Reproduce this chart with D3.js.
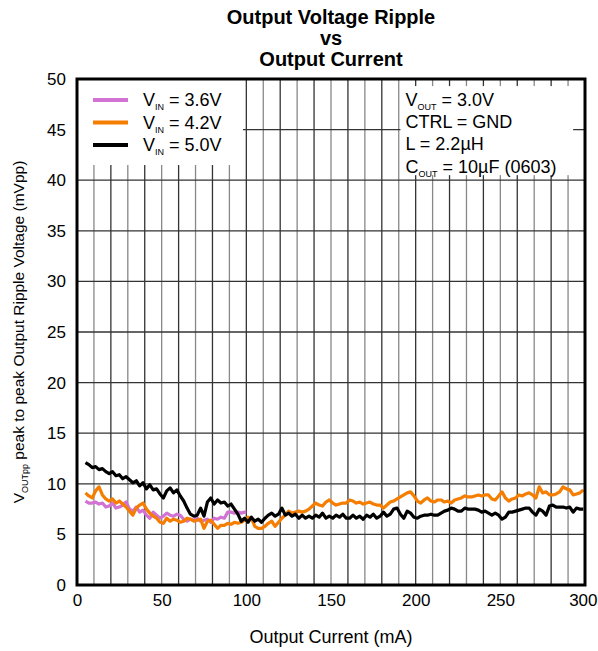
<!DOCTYPE html>
<html>
<head>
<meta charset="utf-8">
<script src="https://cdn.jsdelivr.net/npm/d3@7"></script>
<style>
  body { margin: 0; background: #fff; }
  text { font-family: "Liberation Sans", Arial, sans-serif; fill: #000; }
</style>
</head>
<body>
<div id="chart"></div>
<script>
// Chart dimensions
var svgWidth = 598;
var svgHeight = 651;

var margin = { top: 79, right: 13, bottom: 66, left: 77 };
var width = svgWidth - margin.left - margin.right;
var height = svgHeight - margin.top - margin.bottom;

// Data (mA, mVpp)
var xTicks = [0, 50, 100, 150, 200, 250, 300];
var yTicks = [0, 5, 10, 15, 20, 25, 30, 35, 40, 45, 50];

var current36 = [5, 7, 9, 11, 13, 15, 17, 19, 21, 23, 25, 27, 29, 31, 33, 35, 37, 39, 41, 43, 45, 47, 49,
  51, 53, 55, 57, 59, 61, 63, 65, 67, 69, 71, 73, 75, 77, 79, 81, 83, 85, 87, 89, 91, 93, 95, 97, 99, 100];
var ripple36 = [8.3, 8.1, 8.1, 8.2, 8.0, 8.1, 7.7, 7.8, 8.1, 7.6, 7.7, 7.9, 8.2, 7.5, 7.3, 7.7, 7.2, 7.4, 6.9, 6.6, 7.2, 6.9, 6.6,
  6.8, 7.1, 6.9, 6.8, 7.0, 6.9, 6.5, 6.3, 6.5, 6.4, 6.6, 6.3, 6.4, 6.5, 6.2, 6.6, 6.5, 6.7, 6.6, 7.2, 7.2, 7.1, 7.2, 7.1, 7.2, 7.2];

var current = d3.range(5, 301, 2);

var ripple42 = [9.1, 8.8, 8.6, 9.3, 9.7, 8.9, 8.5, 8.3, 8.5, 8.1, 8.3, 8.0, 7.7, 7.3, 6.9, 7.6, 7.9, 8.1, 7.5, 7.1, 6.8, 6.6, 6.2,
  6.1, 6.6, 6.3, 6.5, 6.4, 6.2, 6.3, 6.6, 6.5, 6.3, 6.4, 6.5, 5.6, 6.3, 6.4, 6.0, 5.6, 5.9, 5.9, 6.1, 6.0, 6.2, 6.1, 6.2, 6.4,
  6.7, 6.6, 5.8, 5.6, 5.6, 5.8, 6.1, 6.3, 5.8, 6.2, 6.6, 6.9, 7.3, 7.1, 7.2, 7.3, 7.2, 7.3, 7.5, 7.8, 8.1, 7.9, 7.8, 8.2, 8.4,
  8.1, 7.9, 8.0, 8.1, 8.1, 8.4, 8.3, 8.1, 8.2, 8.0, 8.1, 8.2, 8.0, 7.9, 7.9, 7.6, 7.9, 8.2, 8.3, 8.5, 8.7, 8.9, 9.1, 9.2, 8.8,
  8.3, 8.1, 8.4, 8.6, 8.3, 8.2, 8.4, 8.4, 8.2, 8.3, 8.1, 8.4, 8.5, 8.6, 8.8, 8.7, 8.7, 8.8, 8.9, 8.8, 8.9, 8.9, 8.5, 8.4, 8.8,
  9.2, 8.6, 8.3, 8.5, 8.6, 8.9, 8.8, 9.0, 9.1, 8.9, 8.6, 9.7, 9.1, 9.2, 8.9, 8.9, 9.0, 9.2, 9.7, 9.5, 9.4, 8.9, 9.0, 9.1, 9.4];

var ripple50 = [12.1, 11.9, 11.6, 11.7, 11.4, 11.5, 11.2, 11.0, 11.2, 10.8, 10.9, 10.5, 10.7, 10.4, 10.1, 10.3, 9.8, 10.1, 9.5,
  9.9, 9.4, 9.5, 9.0, 8.6, 9.3, 9.6, 9.1, 9.4, 8.8, 8.3, 7.6, 7.0, 6.8, 6.9, 7.6, 6.8, 8.2, 8.6, 8.0, 8.4, 8.1, 8.2, 7.8, 8.0,
  7.5, 7.0, 6.3, 6.6, 6.2, 6.7, 6.3, 6.5, 6.2, 6.6, 6.9, 7.1, 6.8, 7.0, 7.6, 6.9, 7.1, 6.8, 7.0, 6.6, 6.9, 6.6, 6.8, 6.6, 6.9,
  6.7, 7.1, 6.6, 6.8, 6.6, 6.9, 6.7, 7.0, 6.6, 6.6, 6.9, 6.6, 6.8, 6.5, 6.9, 6.7, 7.0, 6.6, 6.8, 7.2, 6.8, 7.0, 7.5, 7.6, 7.0,
  6.6, 7.3, 7.1, 6.7, 6.6, 6.8, 6.9, 6.9, 7.0, 6.9, 6.9, 7.1, 7.3, 7.4, 7.6, 7.5, 7.3, 7.3, 7.6, 7.5, 7.5, 7.5, 7.4, 7.2, 7.3,
  7.1, 6.9, 7.1, 6.9, 6.5, 6.7, 7.2, 7.2, 7.3, 7.4, 7.5, 7.6, 7.6, 7.2, 6.9, 7.5, 7.3, 6.9, 7.8, 7.9, 7.7, 7.7, 7.7, 7.6, 7.7,
  7.2, 7.6, 7.5, 7.5];

var series = [
  { name: "3.6V", color: "#d272d2", x: current36, y: ripple36 },
  { name: "4.2V", color: "#f57d00", x: current, y: ripple42 },
  { name: "5.0V", color: "#000000", x: current, y: ripple50 }
];

var svg = d3.select("#chart")
  .append("svg")
  .attr("width", svgWidth)
  .attr("height", svgHeight);

var chartGroup = svg.append("g")
  .attr("transform", `translate(${margin.left}, ${margin.top})`);

var xScale = d3.scaleLinear().domain([0, 300]).range([0, width]);
var yScale = d3.scaleLinear().domain([0, 50]).range([height, 0]);

// Grid
chartGroup.append("g")
  .selectAll("line")
  .data(d3.range(10, 300, 10))
  .enter()
  .append("line")
  .attr("x1", d => xScale(d))
  .attr("x2", d => xScale(d))
  .attr("y1", 0)
  .attr("y2", height)
  .attr("stroke", (d, i) => i % 2 ? "#333" : "#888")
  .attr("stroke-width", 1.3);

chartGroup.append("g")
  .selectAll("line")
  .data(d3.range(5, 50, 5))
  .enter()
  .append("line")
  .attr("x1", 0)
  .attr("x2", width)
  .attr("y1", d => yScale(d))
  .attr("y2", d => yScale(d))
  .attr("stroke", "#333")
  .attr("stroke-width", 1.3);

// White boxes behind legend and annotation
chartGroup.append("rect")
  .attr("x", 0).attr("y", 0)
  .attr("width", xScale(98)).attr("height", yScale(41.5))
  .attr("fill", "#fff");

chartGroup.append("rect")
  .attr("x", xScale(191)).attr("y", yScale(49.3))
  .attr("width", xScale(293) - xScale(191)).attr("height", yScale(40.5) - yScale(49.3))
  .attr("fill", "#fff");

// Lines
var line = d3.line()
  .x(d => xScale(d[0]))
  .y(d => yScale(d[1]));

series.forEach(function(s) {
  chartGroup.append("path")
    .datum(s.x.map((v, i) => [v, s.y[i]]))
    .attr("fill", "none")
    .attr("stroke", s.color)
    .attr("stroke-width", 3.2)
    .attr("stroke-linejoin", "round")
    .attr("d", line);
});

// Frame
chartGroup.append("rect")
  .attr("width", width)
  .attr("height", height)
  .attr("fill", "none")
  .attr("stroke", "#000")
  .attr("stroke-width", 3);

// Axes
var bottomAxis = d3.axisBottom(xScale).tickValues(xTicks).tickSize(0).tickPadding(9);
var leftAxis = d3.axisLeft(yScale).tickValues(yTicks).tickSize(0).tickPadding(11);

var xAxis = chartGroup.append("g")
  .attr("transform", `translate(0, ${height})`)
  .call(bottomAxis);
var yAxis = chartGroup.append("g").call(leftAxis);

[xAxis, yAxis].forEach(function(a) {
  a.select(".domain").remove();
  a.selectAll("text")
    .attr("font-size", 17)
    .attr("font-family", "Liberation Sans, Arial, sans-serif")
    .attr("fill", "#000");
});

// keep the last x label inside the page
xAxis.selectAll("text")
  .filter(d => d === 300)
  .attr("text-anchor", "end")
  .attr("x", 12);

// Title
var title = svg.append("text")
  .attr("x", margin.left + width / 2)
  .attr("text-anchor", "middle")
  .attr("font-size", 20)
  .attr("font-weight", "bold");
["Output Voltage Ripple", "vs", "Output Current"].forEach(function(t, i) {
  title.append("tspan")
    .attr("x", margin.left + width / 2)
    .attr("y", 24 + i * 21)
    .text(t);
});

// Axis labels
svg.append("text")
  .attr("x", margin.left + width / 2)
  .attr("y", 643)
  .attr("text-anchor", "middle")
  .attr("font-size", 18)
  .text("Output Current (mA)");

var yLabel = svg.append("text")
  .attr("transform", `translate(24, ${margin.top + height / 2}) rotate(-90)`)
  .attr("text-anchor", "middle")
  .attr("font-size", 15.5);
yLabel.append("tspan").text("V");
yLabel.append("tspan").attr("font-size", 9).attr("dy", 4).text("OUTpp");
yLabel.append("tspan").attr("dy", -4).text(" peak to peak Output Ripple Voltage (mVpp)");

// Legend
var legend = chartGroup.append("g");
series.forEach(function(s, i) {
  var ly = 21 + i * 22.5;
  legend.append("line")
    .attr("x1", 16).attr("x2", 51)
    .attr("y1", ly).attr("y2", ly)
    .attr("stroke", s.color)
    .attr("stroke-width", 4);
  var t = legend.append("text")
    .attr("x", 66).attr("y", ly + 6)
    .attr("font-size", 18);
  t.append("tspan").text("V");
  t.append("tspan").attr("font-size", 9).attr("dy", 4).text("IN");
  t.append("tspan").attr("dy", -4).text(" = " + s.name);
});

// Annotation
var notes = chartGroup.append("g")
  .attr("transform", `translate(${xScale(194)}, 0)`);
var n1 = notes.append("text").attr("y", 27).attr("font-size", 18);
n1.append("tspan").text("V");
n1.append("tspan").attr("font-size", 9).attr("dy", 4).text("OUT");
n1.append("tspan").attr("dy", -4).text(" = 3.0V");
notes.append("text").attr("y", 49).attr("font-size", 18).text("CTRL = GND");
notes.append("text").attr("y", 71).attr("font-size", 18).text("L = 2.2\u00b5H");
var n4 = notes.append("text").attr("y", 94).attr("font-size", 18);
n4.append("tspan").text("C");
n4.append("tspan").attr("font-size", 9).attr("dy", 4).text("OUT");
n4.append("tspan").attr("dy", -4).text(" = 10\u00b5F (0603)");
</script>
</body>
</html>
